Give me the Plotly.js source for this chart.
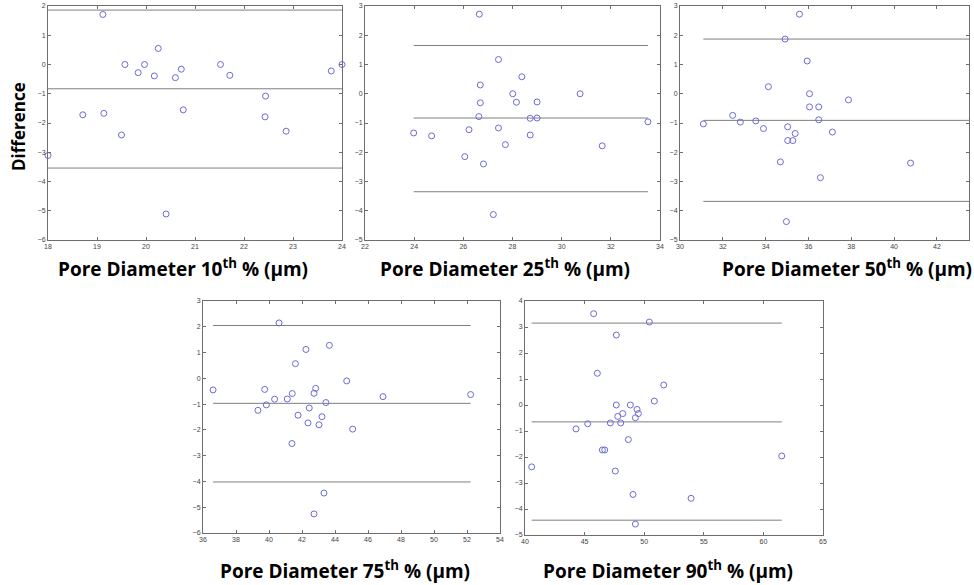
<!DOCTYPE html>
<html><head><meta charset="utf-8">
<script src="https://cdn.plot.ly/plotly-3.0.1.min.js"></script>
<style>html,body{margin:0;padding:0;background:#fff;}#chart{width:974px;height:585px;}</style>
</head><body><div id="chart"></div>
<script>
// Panel 1: Pore Diameter 10th %
const p10_x = [18.0,19.12,18.71,19.14,19.50,19.57,19.84,19.97,20.17,20.25,20.41,20.60,20.72,20.76,21.52,21.71,22.44,22.43,22.86,23.78,24.0];
const p10_y = [-3.11,1.71,-1.72,-1.67,-2.41,0.0,-0.28,0.0,-0.39,0.55,-5.11,-0.45,-0.16,-1.55,0.0,-0.37,-1.08,-1.79,-2.28,-0.22,0.0];
const p10_lines = [1.86,-0.83,-3.54];
// Panel 2: Pore Diameter 25th %
const p25_x = [26.65,27.43,28.38,26.69,28.01,30.75,26.69,28.16,29.00,26.63,28.72,29.00,33.51,23.98,24.71,26.23,27.43,28.72,27.71,31.65,26.06,26.82,27.22];
const p25_y = [2.72,1.17,0.58,0.30,0.0,0.0,-0.31,-0.29,-0.28,-0.78,-0.84,-0.83,-0.96,-1.34,-1.44,-1.23,-1.17,-1.41,-1.74,-1.78,-2.15,-2.40,-4.13];
const p25_lines = [1.65,-0.83,-3.35];
// Panel 3: Pore Diameter 50th %
const p50_x = [35.58,34.91,35.94,34.13,36.05,37.87,36.05,36.48,32.46,31.09,32.82,33.54,36.48,33.90,35.03,35.38,37.12,35.03,35.27,34.69,36.56,40.77,34.97,43.53];
const p50_y = [2.72,1.87,1.12,0.24,0.0,-0.21,-0.45,-0.45,-0.74,-1.03,-0.97,-0.93,-0.89,-1.19,-1.13,-1.36,-1.31,-1.60,-1.60,-2.33,-2.87,-2.37,-4.37,-0.92];
const p50_lines = [1.87,-0.91,-3.68];
// Panel 4: Pore Diameter 75th %
const p75_x = [36.61,40.61,42.24,43.66,41.60,44.71,39.74,42.83,41.41,42.73,40.34,41.11,46.91,52.22,39.84,39.33,42.44,43.45,41.76,43.21,42.36,43.03,45.07,41.39,43.33,42.73];
const p75_y = [-0.45,2.15,1.12,1.28,0.57,-0.10,-0.43,-0.39,-0.59,-0.58,-0.81,-0.80,-0.71,-0.63,-1.03,-1.24,-1.15,-0.94,-1.43,-1.49,-1.73,-1.80,-1.97,-2.53,-4.45,-5.26];
const p75_lines = [2.05,-0.97,-4.02];
// Panel 5: Pore Diameter 90th %
const p90_x = [45.76,50.43,47.66,46.07,51.64,50.85,47.66,48.84,49.40,47.78,48.20,49.51,49.26,44.28,45.26,47.16,48.03,48.67,46.49,46.69,40.56,47.58,49.06,53.93,61.54,49.26];
const p90_y = [3.51,3.19,2.69,1.22,0.77,0.15,0.0,0.0,-0.17,-0.44,-0.33,-0.33,-0.49,-0.92,-0.72,-0.69,-0.69,-1.33,-1.73,-1.73,-2.38,-2.54,-3.44,-3.59,-1.96,-4.58];
const p90_lines = [3.15,-0.65,-4.43];

const titles = ['10','25','50','75','90'];

const panels = [
  {x:p10_x,y:p10_y,l:p10_lines,xr:[18,24],yr:[-6,2],xd:[48,342],yd:[6,240],dt:1,tx:183,ty:268},
  {x:p25_x,y:p25_y,l:p25_lines,xr:[22,34],yr:[-5,3],xd:[365,660],yd:[6,240],dt:2,tx:505,ty:268},
  {x:p50_x,y:p50_y,l:p50_lines,xr:[30,43.5],yr:[-5,3],xd:[680,969],yd:[6,240],dt:2,tx:847,ty:268},
  {x:p75_x,y:p75_y,l:p75_lines,xr:[36,54],yr:[-6,3],xd:[203,500],yd:[301,533],dt:2,tx:345,ty:570},
  {x:p90_x,y:p90_y,l:p90_lines,xr:[40,65],yr:[-5,4],xd:[525,823],yd:[301,535],dt:5,tx:668,ty:570}
];
const W=974,H=585;
const traces=[];
const layout={width:W,height:H,margin:{l:0,r:0,t:0,b:0},paper_bgcolor:'#fff',plot_bgcolor:'#fff',showlegend:false,annotations:[]};
panels.forEach((p,i)=>{
  const n=i+1, xa='x'+(n===1?'':n), ya='y'+(n===1?'':n);
  const xmin=Math.min(...p.x), xmax=Math.max(...p.x);
  p.l.forEach(v=>{
    traces.push({x:[xmin,xmax],y:[v,v],xaxis:xa,yaxis:ya,mode:'lines',line:{color:'#7f7f7f',width:1},hoverinfo:'skip'});
  });
  traces.push({x:p.x,y:p.y,xaxis:xa,yaxis:ya,mode:'markers',marker:{symbol:'circle-open',size:6,color:'#6b6bd6',line:{width:1}},cliponaxis:false});
  const common={showgrid:false,zeroline:false,showline:true,linecolor:'#6e6e6e',linewidth:1,mirror:'ticks',ticks:'inside',ticklen:3,tickcolor:'#6e6e6e',tickfont:{family:'Liberation Sans, Arial',size:7,color:'#444'}};
  layout['xaxis'+(n===1?'':n)]=Object.assign({},common,{range:p.xr,domain:[p.xd[0]/W,p.xd[1]/W],anchor:ya,dtick:p.dt,tick0:p.xr[0]});
  layout['yaxis'+(n===1?'':n)]=Object.assign({},common,{range:p.yr,domain:[1-p.yd[1]/H,1-p.yd[0]/H],anchor:xa,dtick:1,tick0:0});
  layout.annotations.push({xref:'paper',yref:'paper',x:p.tx/W,y:1-p.ty/H,xanchor:'center',yanchor:'middle',showarrow:false,
    text:'<b>Pore Diameter '+titles[i]+'<sup>th</sup> % (µm)</b>',font:{family:'Open Sans',size:19,color:'#000'}});
});
layout.annotations.push({xref:'paper',yref:'paper',x:18/W,y:1-127/H,xanchor:'center',yanchor:'middle',showarrow:false,textangle:-90,
  text:'<b>Difference</b>',font:{family:'Open Sans',size:17,color:'#000'}});
Plotly.newPlot('chart',traces,layout,{staticPlot:true});
</script></body></html>
